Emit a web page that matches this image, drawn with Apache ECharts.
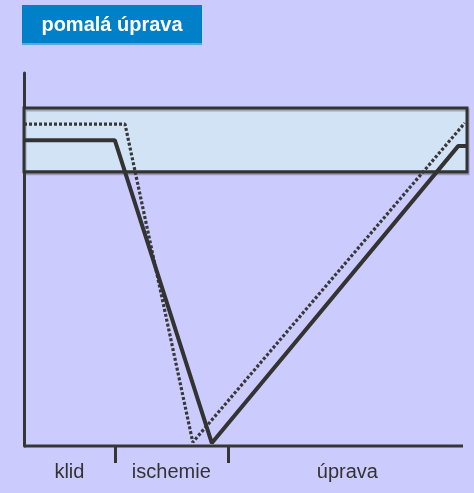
<!DOCTYPE html>
<html>
<head>
<meta charset="utf-8">
<script src="https://cdn.jsdelivr.net/npm/echarts@6/dist/echarts.min.js"></script>
<style>
  html, body { margin: 0; padding: 0; background: #cccbfd; }
  #chart { width: 474px; height: 493px; }
</style>
</head>
<body>
<div id="chart"></div>
<script>
// Phases along the time axis (boundaries and their names)
const phaseBounds = [0, 20.5, 46, 100];
const phaseNames = ['klid', 'ischemie', 'úprava'];

// Length of the drawn time axis line
const timeAxisEnd = 99.1;

// Normal range band (y from / to)
const bandRange = [73.5, 90.6];

// Signal traces: [time, value]
const solidTrace = [[0, 82], [20.5, 82], [42.4, 0.8], [98, 80.4], [100, 80.4]];
const dottedTrace = [[0, 86.3], [22.8, 86.3], [38.1, 1], [99.5, 86.6]];

const title = 'pomalá úprava';

const phaseCenters = phaseNames.map((_, i) => (phaseBounds[i] + phaseBounds[i + 1]) / 2);
const innerBounds = phaseBounds.slice(1, -1);

const chart = echarts.init(document.getElementById('chart'), null, { renderer: 'canvas' });

const axisColor = '#363636';

chart.setOption({
  backgroundColor: '#cccbfd',
  animation: false,
  grid: { left: 24, right: 7, top: 73, bottom: 47 },
  xAxis: {
    type: 'value',
    min: 0,
    max: 100,
    splitLine: { show: false },
    axisLine: { show: false },
    axisTick: {
      show: true,
      customValues: innerBounds,
      length: 17,
      inside: false,
      lineStyle: { color: axisColor, width: 3 }
    },
    axisLabel: {
      show: true,
      customValues: phaseCenters,
      formatter: (v) => {
        const i = phaseCenters.findIndex(c => Math.abs(c - v) < 1e-6);
        return i >= 0 ? phaseNames[i] : '';
      },
      fontFamily: 'Liberation Sans, Arial, sans-serif',
      fontSize: 20,
      color: '#333',
      margin: 16
    }
  },
  yAxis: {
    type: 'value',
    min: 0,
    max: 100,
    splitLine: { show: false },
    axisTick: { show: false },
    axisLabel: { show: false },
    axisLine: { show: true, lineStyle: { color: axisColor, width: 3 } }
  },
  series: [
    {
      type: 'line',
      data: [],
      z: 1,
      markArea: {
        silent: true,
        itemStyle: {
          color: '#d3e3f6', borderColor: '#333', borderWidth: 3,
          shadowColor: 'rgba(60,60,60,0.35)', shadowOffsetY: 2, shadowOffsetX: 1, shadowBlur: 0
        },
        data: [[{ xAxis: 0, yAxis: bandRange[0] }, { xAxis: 100, yAxis: bandRange[1] }]]
      }
    },
    {
      // time axis baseline
      type: 'line',
      data: [[0, 0], [timeAxisEnd, 0]],
      z: 5,
      symbol: 'none',
      clip: false,
      lineStyle: { color: axisColor, width: 3 }
    },
    {
      type: 'line',
      data: dottedTrace,
      z: 3,
      symbol: 'none',
      lineStyle: { color: '#383838', width: 3.2, type: [3, 2] }
    },
    {
      type: 'line',
      data: solidTrace,
      z: 4,
      symbol: 'none',
      lineStyle: { color: '#333', width: 4 }
    }
  ],
  graphic: [
    {
      type: 'rect',
      left: 22,
      top: 5,
      shape: { width: 180, height: 40 },
      style: { fill: '#0080c8' },
      z: 10
    },
    {
      type: 'rect',
      left: 22,
      top: 43,
      shape: { width: 180, height: 2 },
      style: { fill: '#5aa6df' },
      z: 11
    },
    {
      type: 'text',
      x: 112,
      y: 25,
      style: {
        text: title,
        fill: '#ffffff',
        font: 'bold 20px "Liberation Sans", Arial, sans-serif',
        textAlign: 'center',
        textVerticalAlign: 'middle'
      },
      z: 12
    }
  ]
});
</script>
</body>
</html>
